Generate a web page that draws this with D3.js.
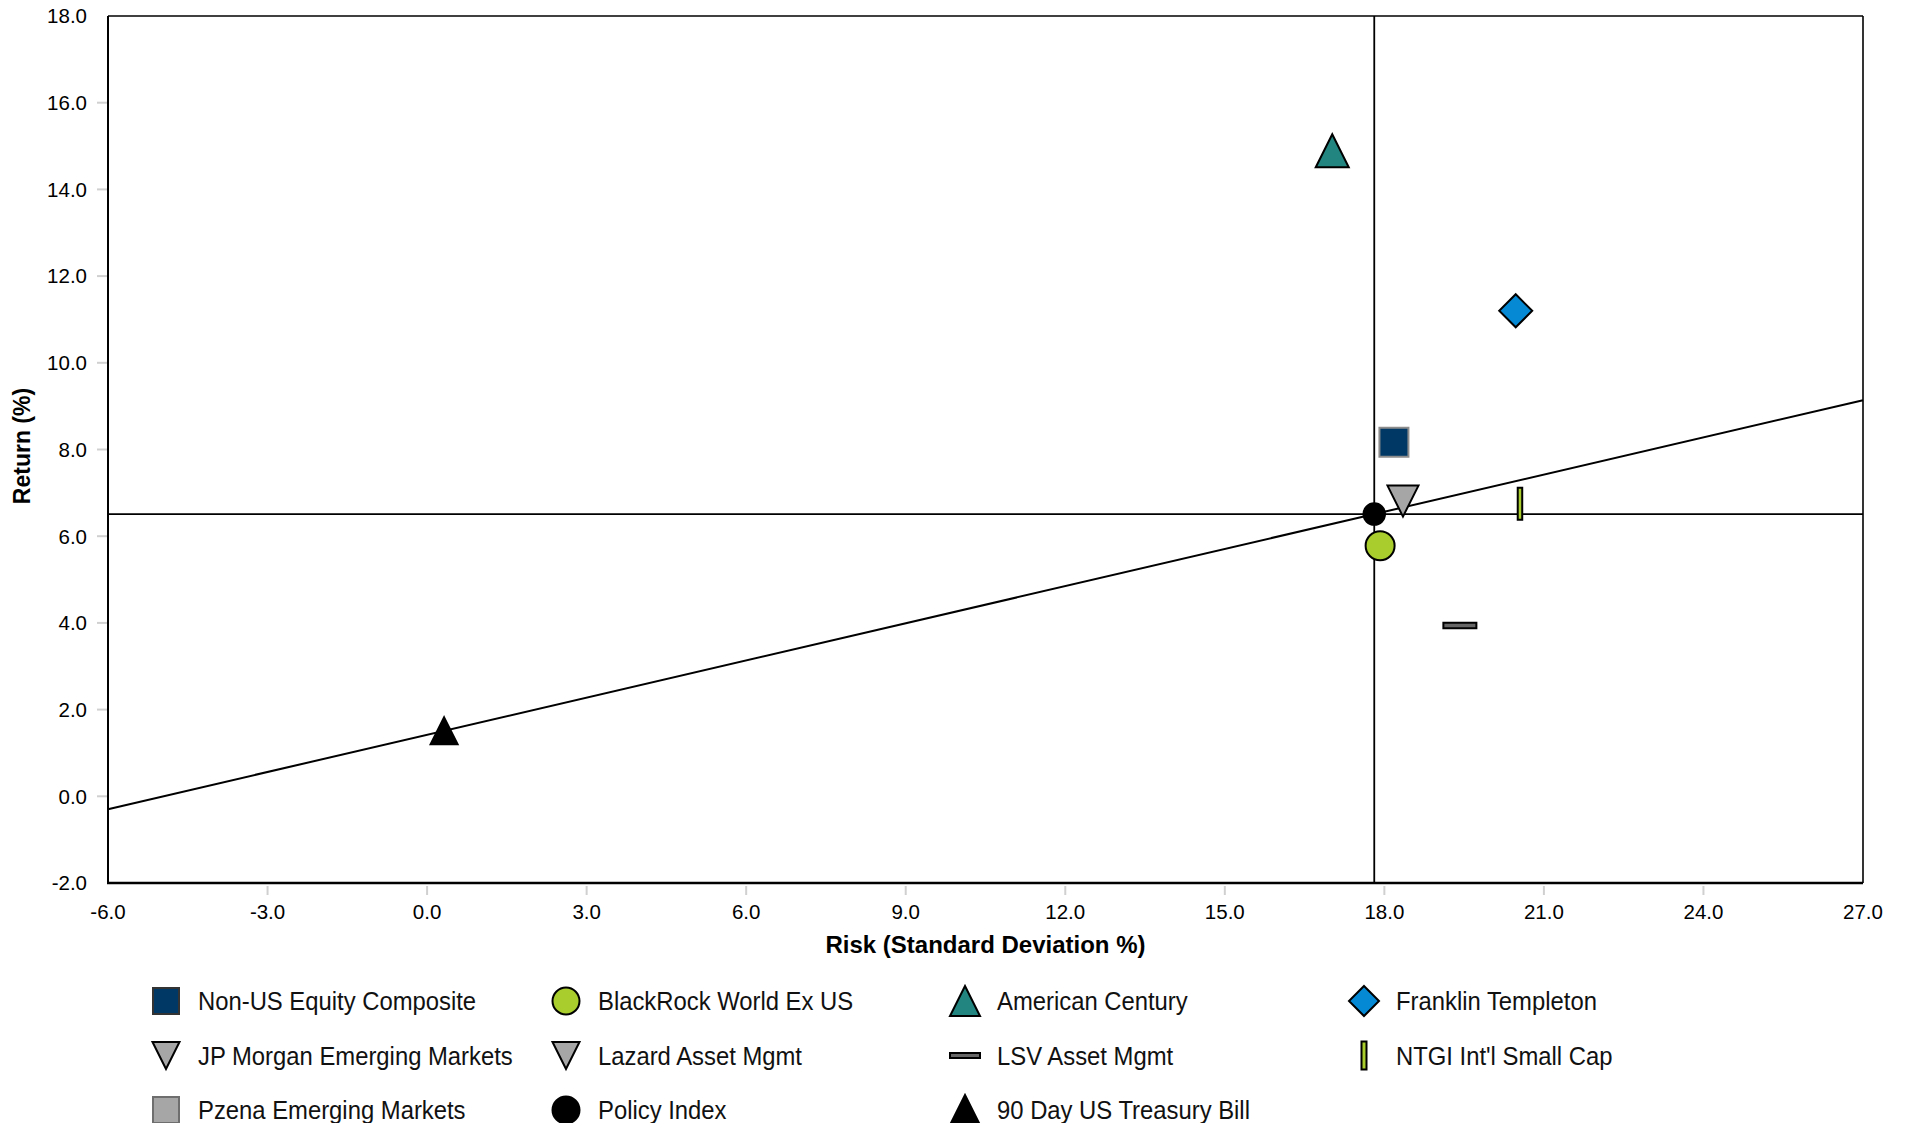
<!DOCTYPE html>
<html>
<head>
<meta charset="utf-8">
<script src="https://cdn.jsdelivr.net/npm/d3@7"></script>
<style>
  html, body { margin: 0; padding: 0; background: #ffffff; }
  svg { display: block; font-family: "Liberation Sans", Arial, sans-serif; }
</style>
</head>
<body>
<svg id="chart" width="1906" height="1123"></svg>
<script>
// Risk / return scatter: annualised standard deviation vs. return (%)
const managers = [
  "Non-US Equity Composite", "BlackRock World Ex US", "American Century", "Franklin Templeton",
  "JP Morgan Emerging Markets", "Lazard Asset Mgmt", "LSV Asset Mgmt", "NTGI Int'l Small Cap",
  "Pzena Emerging Markets", "Policy Index", "90 Day US Treasury Bill"
];
const riskValues   = [18.18, 17.92, 17.02, 20.47, null, 18.35, 19.42, 20.55, null, 17.81, 0.32];
const returnValues = [ 8.17,  5.78, 14.89, 11.20, null,  6.81,  3.94,  6.75, null,  6.51, 1.51];
const markerShapes = ["square", "circle", "triangle", "diamond", "triangleDown", "triangleDown",
                      "hbar", "vbar", "square", "circle", "triangle"];
const markerFills  = ["#003865", "#a8cd2c", "#22857f", "#0589d5", "#a6a6a6", "#a6a6a6",
                      "#666666", "#a8cd2c", "#a6a6a6", "#000000", "#000000"];
const markerStrokes = ["#8c8c8c", "#000000", "#000000", "#000000", "#000000", "#000000",
                       "#000000", "#000000", "#6e6e6e", "#000000", "#000000"];

const xTickValues = [-6, -3, 0, 3, 6, 9, 12, 15, 18, 21, 24, 27];
const yTickValues = [-2, 0, 2, 4, 6, 8, 10, 12, 14, 16, 18];

const margin = { left: 108, right: 43, top: 16, bottom: 240 };
const W = 1906, H = 1123;
const svg = d3.select("#chart");

const x = d3.scaleLinear().domain([-6, 27]).range([margin.left, W - margin.right]);
const y = d3.scaleLinear().domain([-2, 18]).range([H - margin.bottom, margin.top]);

// one decimal, plain hyphen for negatives
const fmt = d3.formatLocale({ decimal: ".", thousands: ",", grouping: [3], currency: ["", ""], minus: "-" }).format(".1f");

// marker sizes [width, height] in the plot and in the legend
const plotSize = {
  square: [29, 29], circle: [29, 29], triangle: [33, 33], diamond: [33, 33],
  triangleDown: [31, 31], hbar: [33, 5.5], vbar: [4.5, 32]
};
const plotSizeOverride = { 9: [21.5, 21.5], 10: [27, 27] };
const legendSize = {
  square: [26, 26], circle: [27, 27], triangle: [30, 30], diamond: [30, 30],
  triangleDown: [27, 27], hbar: [30, 5], vbar: [5, 28]
};

function shapePath(shape, w, h) {
  const a = w / 2, b = h / 2;
  switch (shape) {
    case "square":
    case "hbar":
    case "vbar":
      return `M${-a},${-b}H${a}V${b}H${-a}Z`;
    case "circle":
      return `M${a},0A${a},${b} 0 1,1 ${-a},0A${a},${b} 0 1,1 ${a},0Z`;
    case "triangle":
      return `M0,${-b}L${a},${b}L${-a},${b}Z`;
    case "triangleDown":
      return `M${-a},${-b}L${a},${-b}L0,${b}Z`;
    case "diamond":
      return `M0,${-b}L${a},0L0,${b}L${-a},0Z`;
  }
}

// tick marks (light grey, outside the frame)
const gTicks = svg.append("g");
gTicks.selectAll("line.yt").data(yTickValues.slice(1, -1)).join("line")
  .attr("x1", margin.left - 11).attr("x2", margin.left - 1)
  .attr("y1", d => y(d)).attr("y2", d => y(d))
  .attr("stroke", "#d0d0d0").attr("stroke-width", 2);
gTicks.selectAll("line.xt").data(xTickValues.slice(1, -1)).join("line")
  .attr("x1", d => x(d)).attr("x2", d => x(d))
  .attr("y1", y(-2) + 3).attr("y2", y(-2) + 12)
  .attr("stroke", "#d0d0d0").attr("stroke-width", 2);

// tick labels
svg.append("g").selectAll("text").data(yTickValues).join("text")
  .attr("x", margin.left - 21).attr("y", d => y(d))
  .attr("dy", "0.36em").attr("text-anchor", "end")
  .attr("font-size", "20.5px").attr("fill", "#000")
  .text(d => fmt(d));
svg.append("g").selectAll("text").data(xTickValues).join("text")
  .attr("x", d => x(d)).attr("y", y(-2) + 29)
  .attr("dy", "0.36em").attr("text-anchor", "middle")
  .attr("font-size", "20.5px").attr("fill", "#000")
  .text(d => fmt(d));

// axis titles
svg.append("text")
  .attr("x", (x(-6) + x(27)) / 2).attr("y", 944.5).attr("dy", "0.36em")
  .attr("text-anchor", "middle").attr("font-weight", "bold").attr("font-size", "24px")
  .text("Risk (Standard Deviation %)");
svg.append("text")
  .attr("transform", "translate(22,446) rotate(-90)")
  .attr("dy", "0.36em").attr("text-anchor", "middle")
  .attr("font-weight", "bold").attr("font-size", "23px")
  .text("Return (%)");

// plot frame
const frame = svg.append("g").attr("fill", "none").attr("stroke", "#000");
frame.append("line").attr("x1", x(-6)).attr("x2", x(27)).attr("y1", y(18)).attr("y2", y(18)).attr("stroke-width", 1.6);
frame.append("line").attr("x1", x(27)).attr("x2", x(27)).attr("y1", y(18)).attr("y2", y(-2)).attr("stroke-width", 1.6);
frame.append("line").attr("x1", x(-6)).attr("x2", x(-6)).attr("y1", y(18)).attr("y2", y(-2)).attr("stroke-width", 2);
frame.append("line").attr("x1", x(-6) - 1).attr("x2", x(27)).attr("y1", y(-2)).attr("y2", y(-2)).attr("stroke-width", 2.5);

// capital market line through the risk-free asset and the policy index
const rf = { x: riskValues[10], y: returnValues[10] };
const pol = { x: riskValues[9], y: returnValues[9] };
const slope = (pol.y - rf.y) / (pol.x - rf.x);
const cml = [-6, 27].map(v => [v, rf.y + slope * (v - rf.x)]);
svg.append("path")
  .attr("d", d3.line().x(d => x(d[0])).y(d => y(d[1]))(cml))
  .attr("fill", "none").attr("stroke", "#000").attr("stroke-width", 2);

// crosshair at the policy index
svg.append("line").attr("x1", x(-6)).attr("x2", x(27)).attr("y1", y(pol.y)).attr("y2", y(pol.y))
  .attr("stroke", "#000").attr("stroke-width", 1.8);
svg.append("line").attr("x1", x(pol.x)).attr("x2", x(pol.x)).attr("y1", y(18)).attr("y2", y(-2))
  .attr("stroke", "#000").attr("stroke-width", 1.8);

// points (drawn in reverse so the composite sits on top)
const pts = managers.map((name, i) => ({
  name, i, rx: riskValues[i], ry: returnValues[i],
  shape: markerShapes[i], fill: markerFills[i], stroke: markerStrokes[i]
})).filter(d => d.rx != null && d.ry != null);

svg.append("g").selectAll("path").data(pts.slice().reverse()).join("path")
  .attr("transform", d => `translate(${x(d.rx)},${y(d.ry)})`)
  .attr("d", d => {
    const s = plotSizeOverride[d.i] || plotSize[d.shape];
    return shapePath(d.shape, s[0], s[1]);
  })
  .attr("fill", d => d.fill).attr("stroke", d => d.stroke)
  .attr("stroke-width", 2).attr("stroke-linejoin", "miter");

// legend: four columns, three rows
const legendCols = [166, 566, 965, 1364];
const legendRows = [1001, 1055.5, 1110];
const legend = svg.append("g").selectAll("g").data(managers.map((name, i) => ({
  name, i, shape: markerShapes[i], fill: markerFills[i], stroke: markerStrokes[i]
}))).join("g")
  .attr("transform", d => `translate(${legendCols[d.i % 4]},${legendRows[Math.floor(d.i / 4)]})`);
legend.append("path")
  .attr("d", d => shapePath(d.shape, legendSize[d.shape][0], legendSize[d.shape][1]))
  .attr("fill", d => d.fill).attr("stroke", d => d.stroke === "#8c8c8c" ? "#333" : d.stroke)
  .attr("stroke-width", 2);
legend.append("text")
  .attr("transform", "translate(32,0) scale(0.9,1)")
  .attr("dy", "0.35em").attr("font-size", "26.5px").attr("fill", "#111")
  .text(d => d.name);
</script>
</body>
</html>
